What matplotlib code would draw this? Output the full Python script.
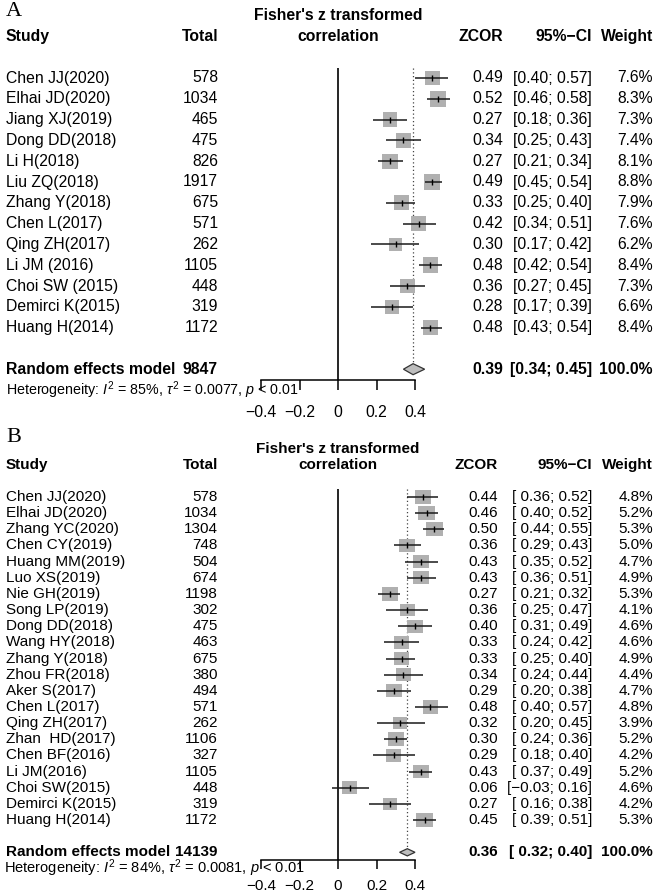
import matplotlib

matplotlib.use("Agg")

import matplotlib.pyplot as plt
import matplotlib.transforms as mtransforms
import numpy as np
from matplotlib.patches import Polygon, Rectangle

plt.rcParams["font.family"] = ["Liberation Sans", "DejaVu Sans"]
plt.rcParams["mathtext.fontset"] = "custom"
plt.rcParams["mathtext.rm"] = "Liberation Sans"
plt.rcParams["mathtext.it"] = "Liberation Sans:italic"
plt.rcParams["mathtext.bf"] = "Liberation Sans:bold"

# ---- panel A data ----
STUDIES_A = [
    "Chen JJ(2020)", "Elhai JD(2020)", "Jiang XJ(2019)", "Dong DD(2018)",
    "Li H(2018)", "Liu ZQ(2018)", "Zhang Y(2018)", "Chen L(2017)",
    "Qing ZH(2017)", "Li JM (2016)", "Choi SW (2015)", "Demirci K(2015)",
    "Huang H(2014)",
]
TOTAL_A = [578, 1034, 465, 475, 826, 1917, 675, 571, 262, 1105, 448, 319, 1172]
ZCOR_A = [0.49, 0.52, 0.27, 0.34, 0.27, 0.49, 0.33, 0.42, 0.30, 0.48, 0.36, 0.28, 0.48]
LOWER_A = [0.40, 0.46, 0.18, 0.25, 0.21, 0.45, 0.25, 0.34, 0.17, 0.42, 0.27, 0.17, 0.43]
UPPER_A = [0.57, 0.58, 0.36, 0.43, 0.34, 0.54, 0.40, 0.51, 0.42, 0.54, 0.45, 0.39, 0.54]
WEIGHT_A = [7.6, 8.3, 7.3, 7.4, 8.1, 8.8, 7.9, 7.6, 6.2, 8.4, 7.3, 6.6, 8.4]
POOLED_A = (9847, 0.39, 0.34, 0.45)
HET_A = ("85", "0.0077")

# ---- panel B data ----
STUDIES_B = [
    "Chen JJ(2020)", "Elhai JD(2020)", "Zhang YC(2020)", "Chen CY(2019)",
    "Huang MM(2019)", "Luo XS(2019)", "Nie GH(2019)", "Song LP(2019)",
    "Dong DD(2018)", "Wang HY(2018)", "Zhang Y(2018)", "Zhou FR(2018)",
    "Aker S(2017)", "Chen L(2017)", "Qing ZH(2017)", "Zhan  HD(2017)",
    "Chen BF(2016)", "Li JM(2016)", "Choi SW(2015)", "Demirci K(2015)",
    "Huang H(2014)",
]
TOTAL_B = [578, 1034, 1304, 748, 504, 674, 1198, 302, 475, 463, 675, 380,
           494, 571, 262, 1106, 327, 1105, 448, 319, 1172]
ZCOR_B = [0.44, 0.46, 0.50, 0.36, 0.43, 0.43, 0.27, 0.36, 0.40, 0.33, 0.33, 0.34,
          0.29, 0.48, 0.32, 0.30, 0.29, 0.43, 0.06, 0.27, 0.45]
LOWER_B = [0.36, 0.40, 0.44, 0.29, 0.35, 0.36, 0.21, 0.25, 0.31, 0.24, 0.25, 0.24,
           0.20, 0.40, 0.20, 0.24, 0.18, 0.37, -0.03, 0.16, 0.39]
UPPER_B = [0.52, 0.52, 0.55, 0.43, 0.52, 0.51, 0.32, 0.47, 0.49, 0.42, 0.40, 0.44,
           0.38, 0.57, 0.45, 0.36, 0.40, 0.49, 0.16, 0.38, 0.51]
WEIGHT_B = [4.8, 5.2, 5.3, 5.0, 4.7, 4.9, 5.3, 4.1, 4.6, 4.6, 4.9, 4.4,
            4.7, 4.8, 3.9, 5.2, 4.2, 5.2, 4.6, 4.2, 5.3]
POOLED_B = (14139, 0.36, 0.32, 0.40)
HET_B = ("84", "0.0081")

TICKS = [-0.4, -0.2, 0.0, 0.2, 0.4]
TICK_LABELS = ["\u22120.4", "\u22120.2", "0", "0.2", "0.4"]

# ---- layout (pixels) ----
W, H = 660, 896
X0_PX = 338
PX_PER_UNIT = 192.5
COL_STUDY = 6
COL_TOTAL = 218
COL_CI = 592
COL_WEIGHT = 653
SQUARE_GRAY = "#B0B0B0"


def fmt_ci(lo, hi, padded):
    if padded:
        text = f"[{lo:5.2f}; {hi:.2f}]"
    else:
        text = f"[{lo:.2f}; {hi:.2f}]"
    return text.replace("-", "\u2212")


def forest(fig, label, label_y, studies, totals, zcor, lower, upper, weights,
           pooled, het, first_row, step, col_zcor, fs, fs_het, sq_w, sq_h,
           dia_h, tick_len, tick_pad, padded_ci, het_x):
    n = len(studies)
    rows = np.arange(n)
    summary_row = n + 1
    het_row = n + 2
    y_top, y_bottom = -3.7, summary_row + 0.5
    top_px = first_row + step * y_top
    bottom_px = first_row + step * y_bottom
    left_px = X0_PX - 0.4 * PX_PER_UNIT

    ax = fig.add_axes([left_px / W, 1 - bottom_px / H, PX_PER_UNIT / W,
                       (bottom_px - top_px) / H])
    ax.set_xlim(-0.4, 0.6)
    ax.set_ylim(y_bottom, y_top)
    ax.patch.set_visible(False)
    for side in ("top", "right", "left"):
        ax.spines[side].set_visible(False)
    ax.spines["bottom"].set_bounds(-0.4, 0.4)
    ax.spines["bottom"].set_linewidth(1.1)
    ax.set_yticks([])
    ax.set_xticks(TICKS)
    ax.set_xticklabels(TICK_LABELS)
    ax.tick_params(axis="x", direction="out", length=tick_len, width=1.1,
                   labelsize=fs, pad=tick_pad)

    # reference lines
    ax.vlines(0, -0.5, y_bottom, color="black", lw=1.2, zorder=1)
    total, est, lo, hi = pooled
    ax.vlines(est, -0.5, summary_row - dia_h / step, color="#444444", lw=0.9,
              linestyles=(0, (1, 2)), zorder=1)

    # study squares and CIs
    wmax = max(weights)
    for r, z, w in zip(rows, zcor, weights):
        k = np.sqrt(w / wmax)
        bw = sq_w * k / PX_PER_UNIT
        bh = sq_h * k / step
        ax.add_patch(Rectangle((z - bw / 2, r - bh / 2), bw, bh,
                               facecolor=SQUARE_GRAY, edgecolor="none",
                               zorder=2, clip_on=False))
    ax.hlines(rows, lower, upper, color="#1a1a1a", lw=1.1, zorder=3, clip_on=False)
    ax.plot(zcor, rows, ls="none", marker="|", ms=4.5, mew=1.0, color="black",
            zorder=4, clip_on=False)

    # pooled diamond
    dh = dia_h / step
    ax.add_patch(Polygon([(lo, summary_row), (est, summary_row - dh),
                          (hi, summary_row), (est, summary_row + dh)],
                         closed=True, facecolor="#BDBDBD", edgecolor="#333333",
                         lw=0.9, zorder=3, clip_on=False))

    # text columns
    tr = mtransforms.blended_transform_factory(fig.transFigure, ax.transData)
    tr_mid = ax.transData

    def put(xpx, y, s, ha, bold=False, size=fs):
        ax.text(xpx / W, y, s, transform=tr, ha=ha, va="center", fontsize=size,
                fontweight="bold" if bold else "normal")

    ax.text(0, -3, "Fisher's z transformed", transform=tr_mid, ha="center",
            va="center", fontsize=fs, fontweight="bold")
    ax.text(0, -2, "correlation", transform=tr_mid, ha="center", va="center",
            fontsize=fs, fontweight="bold")
    put(COL_STUDY, -2, "Study", "left", True)
    put(COL_TOTAL, -2, "Total", "right", True)
    put(col_zcor, -2, "ZCOR", "right", True)
    put(COL_CI, -2, "95%\u2212CI", "right", True)
    put(COL_WEIGHT, -2, "Weight", "right", True)

    for r, s, t, z, l, u, w in zip(rows, studies, totals, zcor, lower, upper, weights):
        put(COL_STUDY, r, s, "left")
        put(COL_TOTAL, r, f"{t}", "right")
        put(col_zcor, r, f"{z:.2f}", "right")
        put(COL_CI, r, fmt_ci(l, u, padded_ci), "right")
        put(COL_WEIGHT, r, f"{w:.1f}%", "right")

    put(COL_STUDY, summary_row, "Random effects model", "left", True)
    put(COL_TOTAL, summary_row, f"{total}", "right", True)
    put(col_zcor, summary_row, f"{est:.2f}", "right", True)
    put(COL_CI, summary_row, fmt_ci(lo, hi, padded_ci), "right", True)
    put(COL_WEIGHT, summary_row, "100.0%", "right", True)

    i2, tau2 = het
    put(het_x, het_row,
        f"Heterogeneity: $I^2$ = {i2}%, $\\tau^2$ = {tau2}, $p$ < 0.01",
        "left", size=fs_het)

    fig.text(COL_STUDY / W, 1 - label_y / H, label, ha="left", va="center",
             fontsize=16, family="Liberation Serif")
    return ax


def main():
    fig = plt.figure(figsize=(W / 100, H / 100), dpi=100)
    forest(fig, "A", 12, STUDIES_A, TOTAL_A, ZCOR_A, LOWER_A, UPPER_A, WEIGHT_A,
           POOLED_A, HET_A, first_row=78, step=20.8, col_zcor=503, fs=11.3,
           fs_het=10.3, sq_w=15.9, sq_h=15.9, dia_h=5.5, tick_len=7.2,
           tick_pad=11, padded_ci=False, het_x=6)
    forest(fig, "B", 437, STUDIES_B, TOTAL_B, ZCOR_B, LOWER_B, UPPER_B, WEIGHT_B,
           POOLED_B, HET_B, first_row=497, step=16.15, col_zcor=498, fs=11.0,
           fs_het=10.5, sq_w=16.5, sq_h=14.0, dia_h=3.6, tick_len=6.5,
           tick_pad=7, padded_ci=True, het_x=4)
    fig.savefig("out.png", dpi=100)


if __name__ == "__main__":
    main()
